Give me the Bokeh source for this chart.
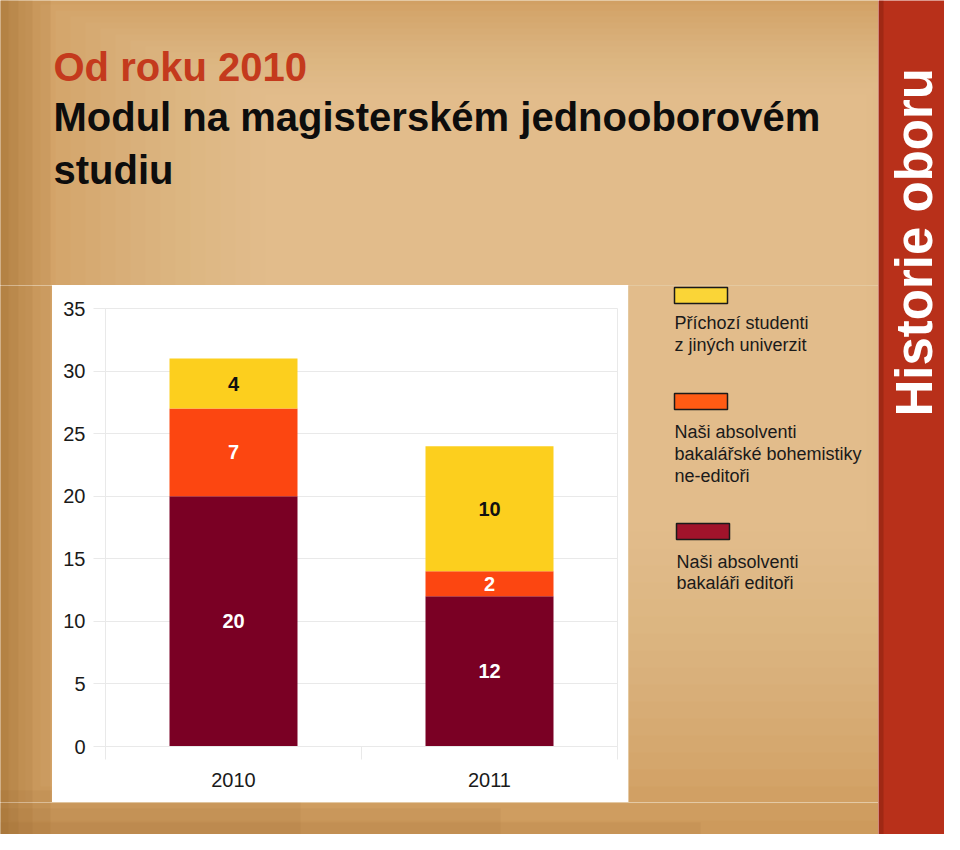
from bokeh.plotting import figure
from bokeh.layouts import row, column
from bokeh.models import ColumnDataSource, Range1d, FixedTicker, BoxAnnotation, Label
from bokeh.core.properties import value
from bokeh.embed import file_html
from bokeh.resources import INLINE

# ---------------- data ----------------
years = ["2010", "2011"]
editori = [20, 12]        # Naši absolventi bakaláři editoři
ne_editori = [7, 2]       # Naši absolventi bakalářské bohemistiky ne-editoři
prichozi = [4, 10]        # Příchozí studenti z jiných univerzit
y_ticks = [0, 5, 10, 15, 20, 25, 30, 35]
series = ["editori", "ne_editori", "prichozi"]
legend_texts = [
    ["Příchozí studenti", "z jiných univerzit"],
    ["Naši absolventi", "bakalářské bohemistiky", "ne-editoři"],
    ["Naši absolventi", "bakaláři editoři"],
]
title_lines = ["Od roku 2010", "Modul na magisterském jednooborovém", "studiu"]
side_text = "Historie oboru"

# ---------------- styles ----------------
bar_colors = ["#7A0024", "#FC4611", "#FCCF1E"]
bar_text_colors = ["white", "white", "#111111"]
legend_colors = ["#FAD537", "#FF5B14", "#A1132B"]
FONT = "Liberation Sans"
GRID = "#E9E9E9"
BASE = "#C99352"
BAND = "#B8301A"

TOTAL_W, TOTAL_H = 944, 834
BAND_X = 878
PANEL = (52, 285, 628, 802)           # white chart panel (page px)
FRAME = (105, 308, 617, 746)          # chart plot area (page px)
n = len(years)
YMAX = y_ticks[-1]

# vignette layers in page pixel coordinates
layers = []
for k in range(20):
    layers.append(((k * 15 - 20, k * 6 - 20, 980 - k * 6, TOTAL_H + 20 - k * 17), "#F4D7A2", 0.065))
for wdt in (8, 18, 32, 50):
    layers.append(((-20, -20, wdt, TOTAL_H + 20), "#8E5A22", 0.10))
for k, hh in enumerate((12, 26, 44)):
    layers.append(((-20, TOTAL_H - hh, 700 - k * 200, TOTAL_H + 20), "#8E5A22", 0.08))


def deco_fig(x0, y0, x1, y1, fill=BASE, vignette=True):
    """A figure covering page px region, with data coords == page px (y down)."""
    f = figure(width=x1 - x0, height=y1 - y0, x_range=Range1d(x0, x1), y_range=Range1d(y1, y0),
               x_axis_location=None, y_axis_location=None, min_border=0,
               output_backend="svg", toolbar_location=None, title=None)
    f.frame_align = False
    f.grid.visible = False
    f.outline_line_color = None
    f.background_fill_color = fill
    f.border_fill_color = fill
    if vignette:
        for (a, b, c, d), col, al in layers:
            f.add_layout(BoxAnnotation(left=a, right=c, top=b, bottom=d, fill_color=col,
                                       fill_alpha=al, line_alpha=0))
    return f


# ---------------- title ----------------
top = deco_fig(0, 0, BAND_X, PANEL[1])
title_base = [66, 116, 169]
title_colors = ["#C43A1D", "#0d0d0d", "#0d0d0d"]
for txt, yb, col in zip(title_lines, title_base, title_colors):
    top.add_layout(Label(x=53, y=yb, text=txt, text_font=FONT, text_font_size="40px",
                         text_font_style="bold", text_color=col, text_baseline="alphabetic",
                         text_align="left"))

left = deco_fig(0, PANEL[1], PANEL[0], PANEL[3])
bottom = deco_fig(0, PANEL[3], BAND_X, TOTAL_H)

# ---------------- legend ----------------
leg = deco_fig(PANEL[2], PANEL[1], BAND_X, PANEL[3])
sw = [(674, 287, 727, 303), (674, 393, 727, 409), (676, 523, 729, 539)]
text_x = [674, 674, 676]
text_base = [[322, 344], [431, 453, 475], [561, 582]]
for (x0, y0, x1, y1), col, lines, tx, bases in zip(sw, legend_colors, legend_texts, text_x, text_base):
    leg.add_layout(BoxAnnotation(left=x0, right=x1, top=y0, bottom=y1, fill_color=col,
                                 fill_alpha=1, line_color="#1a1a1a", line_width=1.5, line_alpha=1))
    for ln, yb in zip(lines, bases):
        leg.add_layout(Label(x=tx, y=yb, text=ln, text_font=FONT, text_font_size="18px",
                             text_color="#1a1a1a", text_baseline="alphabetic", text_align="left"))

# ---------------- side band ----------------
band = deco_fig(BAND_X, 0, TOTAL_W, TOTAL_H, fill=BAND, vignette=False)
band.add_layout(BoxAnnotation(left=BAND_X, right=BAND_X + 5, top=0, bottom=TOTAL_H,
                              fill_color="#8A2310", fill_alpha=0.55, line_alpha=0))
band.add_layout(Label(x=TOTAL_W - 30, y=416, text=side_text, text_font=FONT, text_font_size="51px",
                      text_font_style="bold", text_color="white", text_baseline="alphabetic",
                      text_align="left", angle=1.5707963267948966))

# ---------------- chart ----------------
pw, ph = PANEL[2] - PANEL[0], PANEL[3] - PANEL[1]
p = figure(width=pw, height=ph, x_range=Range1d(0, n), y_range=Range1d(0, YMAX),
           output_backend="svg", toolbar_location=None, title=None,
           min_border_left=FRAME[0] - PANEL[0], min_border_right=PANEL[2] - FRAME[2],
           min_border_top=FRAME[1] - PANEL[1], min_border_bottom=PANEL[3] - FRAME[3])
p.frame_align = False
p.border_fill_color = "white"
p.background_fill_color = "white"
p.outline_line_color = GRID

p.xgrid.visible = False
p.ygrid.ticker = FixedTicker(ticks=y_ticks)
p.ygrid.grid_line_color = GRID

xa = p.xaxis[0]
xa.ticker = FixedTicker(ticks=[i + 0.5 for i in range(n)], minor_ticks=list(range(n + 1)))
xa.major_label_overrides = {i + 0.5: y for i, y in enumerate(years)}
xa.major_tick_in = 0
xa.major_tick_out = 0
xa.major_tick_line_color = None
xa.minor_tick_in = 0
xa.minor_tick_out = 13
xa.minor_tick_line_color = GRID
xa.axis_line_color = GRID
xa.major_label_standoff = 13
xa.major_label_text_font = FONT
xa.major_label_text_font_size = "20px"
xa.major_label_text_color = "#1a1a1a"

ya = p.yaxis[0]
ya.ticker = FixedTicker(ticks=y_ticks, minor_ticks=[])
ya.major_tick_in = 0
ya.major_tick_out = 12
ya.major_tick_line_color = GRID
ya.minor_tick_line_color = None
ya.axis_line_color = GRID
ya.major_label_standoff = 8
ya.major_label_text_font = FONT
ya.major_label_text_font_size = "20px"
ya.major_label_text_color = "#1a1a1a"

src = ColumnDataSource(dict(x=[i + 0.5 for i in range(n)], editori=editori,
                            ne_editori=ne_editori, prichozi=prichozi))
p.vbar_stack(series, x="x", width=0.5, fill_color=bar_colors, line_alpha=0, source=src)

lx, ly, lt, lc = [], [], [], []
for i in range(n):
    base = 0
    for vals, tc in zip([editori, ne_editori, prichozi], bar_text_colors):
        v = vals[i]
        lx.append(i + 0.5)
        ly.append(base + v / 2)
        lt.append(str(v))
        lc.append(tc)
        base += v
lsrc = ColumnDataSource(dict(x=lx, y=ly, t=lt, c=lc))
p.text(x="x", y="y", text="t", text_color="c", source=lsrc,
       text_font=value(FONT), text_font_style="bold", text_font_size="20px",
       text_align="center", text_baseline="middle")

layout = row(column(top, row(left, p, leg), bottom), band)

open("out.html", "w").write(file_html(layout, INLINE))
